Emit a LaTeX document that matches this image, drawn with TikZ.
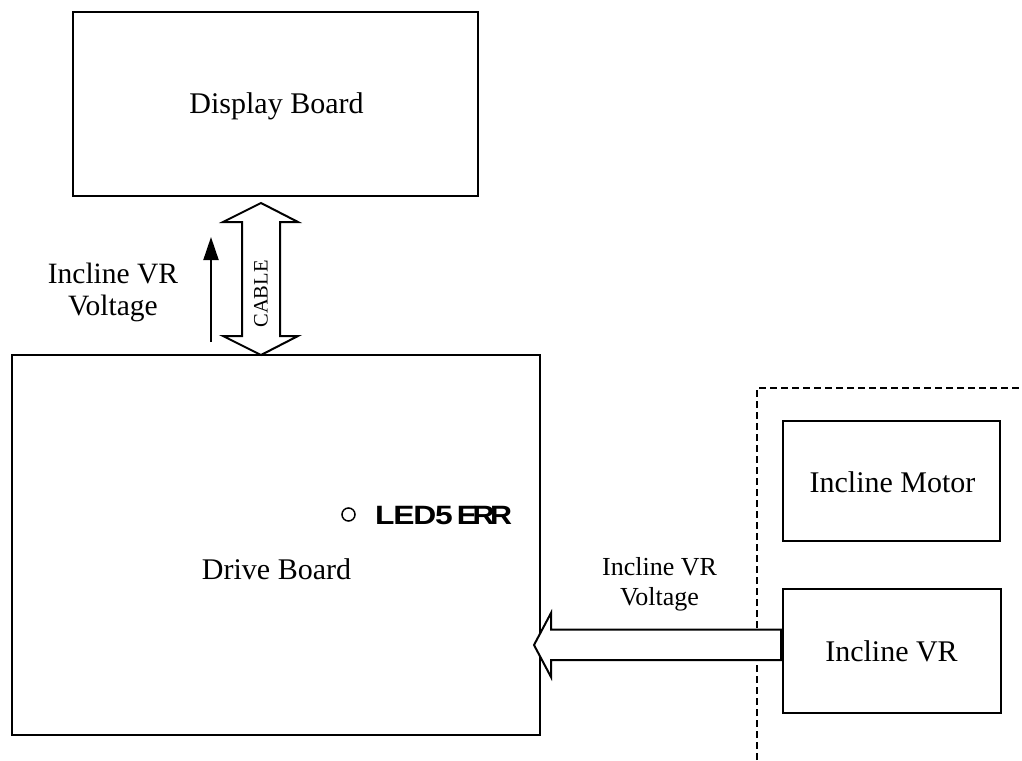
\documentclass[tikz,border=0pt]{standalone}
\usepackage{fontspec}
\usepackage{graphicx}
\setmainfont{Liberation Serif}
\newfontfamily\ledfont{Liberation Sans}
\usetikzlibrary{arrows.meta}
\begin{document}
\begin{tikzpicture}[x=1pt,y=-1pt,
  box/.style={draw, line width=2pt, rectangle, inner sep=0pt, outer sep=0pt},
  lbl/.style={font=\fontsize{30}{34}\selectfont, inner sep=0pt, anchor=base},
  sml/.style={font=\fontsize{26}{30}\selectfont, inner sep=0pt, anchor=base},
  bigarrow/.style={draw, line width=2pt, fill=white, line join=miter, miter limit=10}]
\useasboundingbox[fill=white] (0,0) rectangle (1022,760);
% boxes
\node[box, minimum width=405pt, minimum height=184pt] (disp) at (275.5,104) {};
\node[box, minimum width=528pt, minimum height=380pt] (drive) at (276,545) {};
\node[box, minimum width=217pt, minimum height=120pt] (motor) at (891.5,481) {};
\node[box, minimum width=218pt, minimum height=124pt] (vr) at (892,651) {};
% labels
\node[lbl] (tdisp) at (276.5,113) {Display Board};
\node[lbl] (tdrive) at (276.5,579) {Drive Board};
\node[lbl] (tmotor) at (892.5,492) {Incline Motor};
\node[lbl] (tvr) at (891.5,661) {Incline VR};
\node[lbl, font=\fontsize{29.5}{34}\selectfont] (lv1) at (113,283) {Incline VR};
\node[lbl, font=\fontsize{29.5}{34}\selectfont] (lv2) at (113,315) {Voltage};
\node[sml] (rv1) at (659.5,575) {Incline VR};
\node[sml] (rv2) at (659.5,605) {Voltage};
% dashed enclosure
\coordinate (d1) at (757,760);
\coordinate (d2) at (757,388);
\coordinate (d3) at (1024,388);
\draw[line width=2pt, dash pattern=on 7pt off 4pt] (d1) -- (d2) -- (d3);
% cable double arrow
\draw[bigarrow] (261,203) -- (298,222) -- (280,222) -- (280,336) -- (298,336) -- (261,355)
  -- (223,336) -- (242,336) -- (242,222) -- (223,222) -- cycle;
\node[rotate=90, font=\fontsize{20.5}{20}\selectfont, inner sep=0pt] (cable) at (261,294) {CABLE};
% up arrow
\coordinate (ua) at (211,342);
\coordinate (ub) at (211,237);
\draw[line width=2pt, -{Triangle[length=23pt,width=15pt]}] (ua) -- (ub);
% big left arrow
\draw[bigarrow] (534,645) -- (551,613) -- (551,629.5) -- (781,629.5) -- (781,660) -- (551,660) -- (551,677) -- cycle;
% LED
\draw[line width=1.5pt] (348.5,514.5) circle[radius=6.5pt];
\node[inner sep=0pt, anchor=base west, font=\ledfont\fontsize{26.5}{26.5}\selectfont\bfseries] (led) at (375,524)
  {\scalebox{1.2}[1]{L\kern-1pt E\kern-1pt D\kern-1pt 5}\kern4pt\scalebox{1.15}[1]{E\kern-4pt R\kern-4pt R}};
\end{tikzpicture}
\end{document}
